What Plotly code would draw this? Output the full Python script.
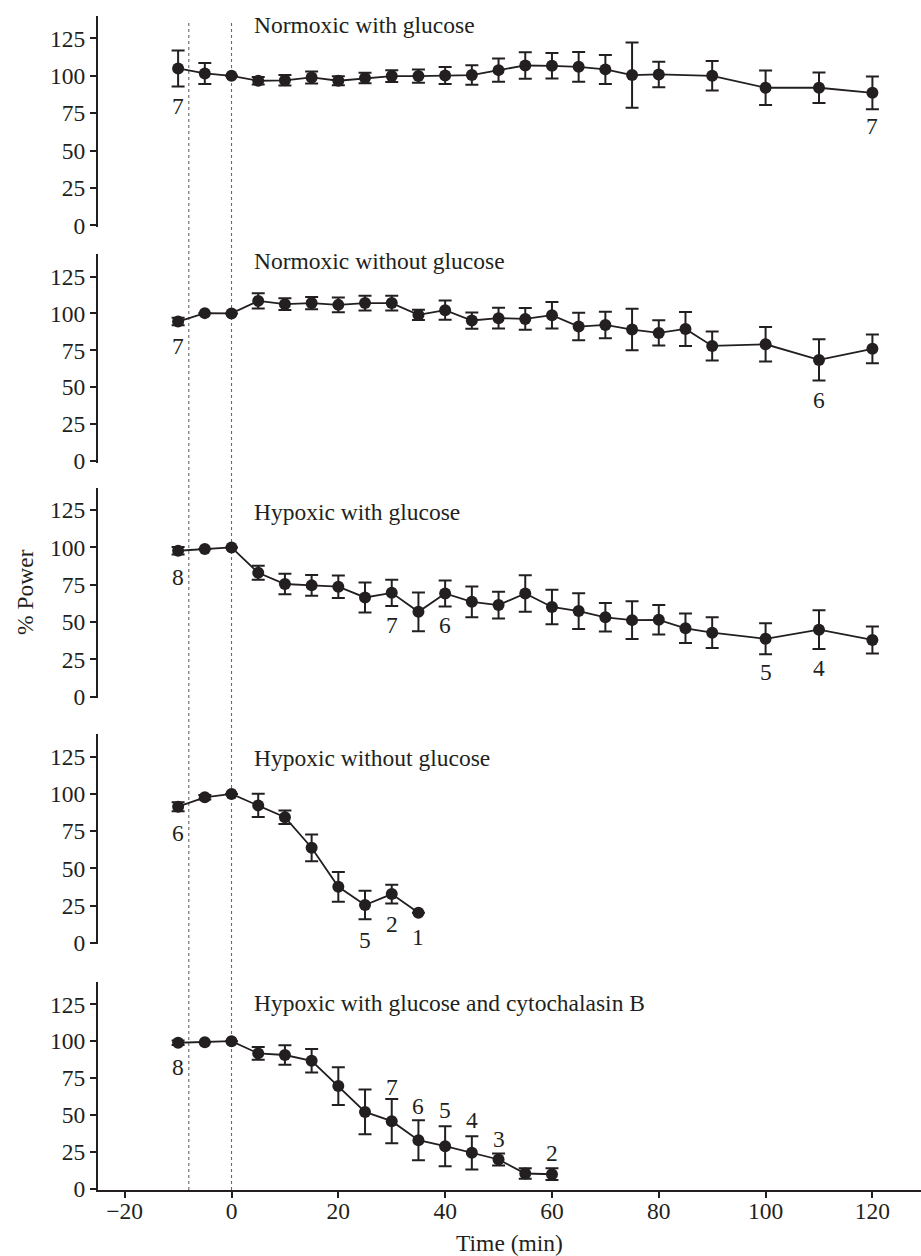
import plotly.graph_objects as go

# ---------------- data ----------------
time_long = [-10, -5, 0, 5, 10, 15, 20, 25, 30, 35, 40, 45, 50, 55, 60, 65, 70, 75, 80, 85, 90, 100, 110, 120]
time_p1 = [-10, -5, 0, 5, 10, 15, 20, 25, 30, 35, 40, 45, 50, 55, 60, 65, 70, 75, 80, 90, 100, 110, 120]
time_p4 = [-10, -5, 0, 5, 10, 15, 20, 25, 30, 35]
time_p5 = [-10, -5, 0, 5, 10, 15, 20, 25, 30, 35, 40, 45, 50, 55, 60]

power_p1 = [104.9, 101.6, 100, 96.7, 97, 98.9, 96.7, 98.5, 99.8, 99.8, 100.2, 100.5, 103.8, 106.9,
            106.7, 106, 104.3, 100.5, 100.9, 100, 92, 92, 88.6]
err_p1 = [12, 7, None, 2.5, 3.5, 4, 3, 3.5, 4, 4.5, 5.7, 6.5, 7.7, 8.8, 8.5, 10, 9.7, 21.8, 8.5,
          9.9, 11.5, 10.2, 11]

power_p2 = [94.5, 100.2, 100, 108.5, 106.3, 107, 105.8, 107, 107, 99, 102.2, 95.2, 96.8, 96.3,
            98.8, 91.1, 92.2, 89.1, 86.8, 89.5, 78, 79.1, 68.5, 76]
err_p2 = [2.5, None, None, 5.2, 3.9, 4.2, 5, 5, 5, 3.5, 6.5, 5.5, 7, 7.3, 9, 9.3, 9, 14, 8.5,
          11.5, 9.8, 11.7, 14, 9.8]

power_p3 = [97.8, 98.9, 100, 83, 75.5, 74.6, 73.7, 66.5, 69.6, 56.9, 69.2, 63.6, 61.4, 69.2,
            60.1, 57.4, 53.2, 51.3, 51.5, 45.8, 42.9, 38.8, 44.9, 38]
err_p3 = [2.5, None, None, 4.7, 6.9, 7, 7.5, 10, 8.8, 13, 8.7, 10.3, 9, 12.2, 11.5, 12, 9.6,
          12.7, 9.9, 9.9, 10.3, 10.4, 13, 9]

power_p4 = [91.4, 97.7, 100, 92.3, 84.3, 63.8, 37.6, 25.3, 32.7, 20.2]
err_p4 = [3, 1.5, None, 7.8, 4.5, 9, 10, 9.6, 6.3, None]

power_p5 = [98.9, 99.2, 100, 91.7, 90.6, 86.7, 69.5, 52, 45.7, 32.8, 28.7, 24.2, 19.7, 10.2, 9.7]
err_p5 = [1.5, None, None, 4.3, 6.6, 8, 12.8, 15.2, 15, 13.6, 13.6, 11.3, 4, 3.5, 4]

panel_titles = ["Normoxic with glucose", "Normoxic without glucose", "Hypoxic with glucose",
                "Hypoxic without glucose", "Hypoxic with glucose and cytochalasin B"]

# sample-size labels: (time, y position, n)
n_labels = [
    [(-10, 79.7, "7"), (120, 66.4, "7")],
    [(-10, 78, "7"), (110, 41.4, "6")],
    [(-10, 80.3, "8"), (30, 48, "7"), (40, 48, "6"), (100, 16.7, "5"), (110, 19, "4")],
    [(-10, 73.5, "6"), (25, 1.8, "5"), (30, 12.6, "2"), (35, 4, "1")],
    [(-10, 82.6, "8"), (30, 69, "7"), (35, 56.1, "6"), (40, 53.2, "5"), (45, 46.4, "4"),
     (50, 33.3, "3"), (60, 24.2, "2")],
]
title_y = [133.9, 135.2, 123.9, 123.9, 126]

y_ticks = [0, 25, 50, 75, 100, 125]
x_ticks = [-20, 0, 20, 40, 60, 80, 100, 120]
marker_lines = [-8, 0]

# ---------------- style ----------------
INK = "#231f20"
FONT = "Liberation Serif, Times New Roman, serif"
FS = 23.5
domains = [[0.8163, 0.9949], [0.6165, 0.7929], [0.4168, 0.5951], [0.2083, 0.3861], [0.0, 0.1761]]
xrange_ = [-25.0, 129.1]
yrange_ = [-1, 140]

series = [
    (time_p1, power_p1, err_p1),
    (time_long, power_p2, err_p2),
    (time_long, power_p3, err_p3),
    (time_p4, power_p4, err_p4),
    (time_p5, power_p5, err_p5),
]

fig = go.Figure()
annotations = []
for i, (tx, py, ey) in enumerate(series):
    k = i + 1
    fig.add_trace(go.Scatter(
        x=tx, y=py, mode="lines+markers",
        line=dict(color=INK, width=1.8),
        marker=dict(color=INK, size=12),
        error_y=dict(type="data", array=ey, symmetric=True, color=INK, thickness=2, width=6.5),
        xaxis=f"x{k}", yaxis=f"y{k}", showlegend=False,
    ))
    for (lx, ly, txt) in n_labels[i]:
        annotations.append(dict(x=lx, y=ly, xref=f"x{k}", yref=f"y{k}", text=txt, showarrow=False,
                                font=dict(family=FONT, size=FS, color=INK)))
    annotations.append(dict(x=3.8, y=title_y[i], xref=f"x{k}", yref=f"y{k}", text=panel_titles[i],
                            showarrow=False, xanchor="left",
                            font=dict(family=FONT, size=FS, color=INK)))

annotations.append(dict(x=-0.107, y=0.5068, xref="paper", yref="paper", text="% Power",
                        textangle=-90, showarrow=False, font=dict(family=FONT, size=FS, color=INK)))

layout = dict(
    width=921, height=1256, template="none",
    margin=dict(l=98, r=0, t=10, b=66),
    paper_bgcolor="white", plot_bgcolor="white",
    font=dict(family=FONT, size=FS, color=INK),
    annotations=annotations,
)
for i in range(5):
    k = i + 1
    xa = dict(domain=[0, 1], range=xrange_, anchor=f"y{k}", showgrid=False, zeroline=False,
              automargin=False)
    if k < 5:
        xa.update(visible=False)
    else:
        xa.update(showline=True, linewidth=2.2, linecolor=INK, ticks="outside", ticklen=6,
                  tickwidth=2, tickcolor=INK, tickvals=x_ticks, ticklabelstandoff=-7,
                  tickfont=dict(family=FONT, size=FS, color=INK),
                  title=dict(text="Time (min)", standoff=23, font=dict(family=FONT, size=FS, color=INK)))
    layout[f"xaxis{k}" if k > 1 else "xaxis"] = xa
    ya = dict(domain=domains[i], range=yrange_, anchor=f"x{k}", showgrid=False, zeroline=False,
              showline=True, linewidth=2.2, linecolor=INK, ticks="outside", ticklen=6, tickwidth=2,
              tickcolor=INK, tickvals=y_ticks, automargin=False,
              tickfont=dict(family=FONT, size=FS, color=INK))
    layout[f"yaxis{k}" if k > 1 else "yaxis"] = ya

fig.update_layout(**layout)

for xv in marker_lines:
    fig.add_shape(type="line", xref="x5", yref="paper", x0=xv, x1=xv, y0=0.0, y1=0.989,
                  line=dict(color="#666666", width=1.1, dash="dot"), layer="below")

fig.write_html("out.html")
